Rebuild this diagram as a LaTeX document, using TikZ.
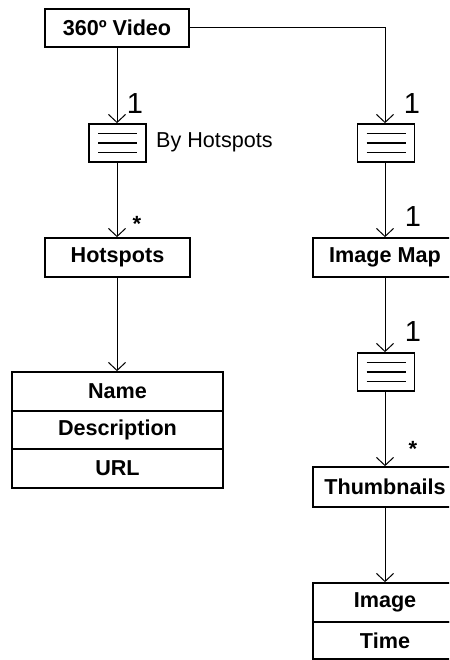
\documentclass[tikz,border=0pt]{standalone}
\usepackage{fontspec}
\setmainfont{Liberation Sans}
\usetikzlibrary{arrows.meta,calc}

\tikzset{
  classbox/.style={draw, line width=1.7pt, minimum width=144pt, minimum height=38pt,
                   inner sep=0pt, font=\fontsize{21.6}{23}\selectfont\bfseries},
  attrbox/.style={classbox},
  listicon/.style={draw, line width=1.7pt, minimum width=57pt, minimum height=38pt, inner sep=0pt,
    path picture={
      \coordinate (pc) at (path picture bounding box.center);
      \draw[line width=1.7pt] ($(pc)+(-19.5pt,9.5pt)$) -- ($(pc)+(19.5pt,9.5pt)$);
      \draw[line width=1.7pt] ($(pc)+(-19.5pt,0pt)$) -- ($(pc)+(19.5pt,0pt)$);
      \draw[line width=2.3pt] ($(pc)+(7.5pt,0pt)$) -- ($(pc)+(19.5pt,0pt)$);
      \draw[line width=1.7pt] ($(pc)+(-19.5pt,-9.5pt)$) -- ($(pc)+(19.5pt,-9.5pt)$);
    }},
  link/.style={draw, line width=1pt, -{Straight Barb[length=8pt,width=17pt,line width=1pt]}},
  mult/.style={font=\fontsize{29}{31}\selectfont, inner sep=0pt},
  star/.style={font=\fontsize{22}{24}\selectfont\bfseries, inner sep=0pt},
  caption/.style={font=\fontsize{21.6}{23}\selectfont, inner sep=0pt, anchor=west}
}

\begin{document}
\begin{tikzpicture}[x=1pt,y=-1pt]
  \path[use as bounding box, clip] (0,0) rectangle (449,660);
  \fill[white] (0,0) rectangle (449,660);

  % left branch
  \node[classbox] (video) at (117,28) {360º Video};
  \node[listicon] (listA) at (117.5,143) {};
  \node[caption] (byhot) at (156,142) {By Hotspots};
  \node[classbox, minimum width=145pt, minimum height=39pt] (hot) at (117.5,257.5) {Hotspots};
  \node[attrbox, minimum width=211pt, minimum height=39pt] (name) at (117.5,391.5) {Name};
  \node[attrbox, minimum width=211pt, minimum height=38pt] (desc) at (117.5,430) {Description};
  \node[attrbox, minimum width=211pt, minimum height=39pt] (url) at (117.5,468.5) {URL};

  % right branch
  \node[listicon] (listB) at (386,143) {};
  \node[classbox, minimum height=39pt] (imap) at (385,257.5) {Image Map};
  \node[listicon] (listC) at (386,372) {};
  \node[classbox, minimum height=40pt] (thumb) at (385,487) {Thumbnails};
  \node[attrbox, minimum height=39pt] (image) at (385,602.5) {Image};
  \node[attrbox, minimum height=37pt] (time) at (385,640.5) {Time};

  % connectors
  \coordinate (corner) at (385,28);
  \draw[link] (video.south -| 117,0) -- (listA.north -| 117,0);
  \draw[link] (listA.south -| 117,0) -- (hot.north -| 117,0);
  \draw[link] (hot.south -| 117,0) -- (name.north -| 117,0);
  \draw[link] (video.east) -- (corner) -- (listB.north -| corner);
  \draw[link] (listB.south -| corner) -- (imap.north -| corner);
  \draw[link] (imap.south -| corner) -- (listC.north -| corner);
  \draw[link] (listC.south -| corner) -- (thumb.north -| corner);
  \draw[link] (thumb.south -| corner) -- (image.north -| corner);

  % multiplicities
  \node[mult] (mA) at (135,104) {1};
  \node[mult] (mB) at (412,104) {1};
  \node[star] (sA) at (137,224) {*};
  \node[mult] (mC) at (413,217) {1};
  \node[mult] (mD) at (413,332) {1};
  \node[star] (sB) at (413,449) {*};
\end{tikzpicture}
\end{document}
